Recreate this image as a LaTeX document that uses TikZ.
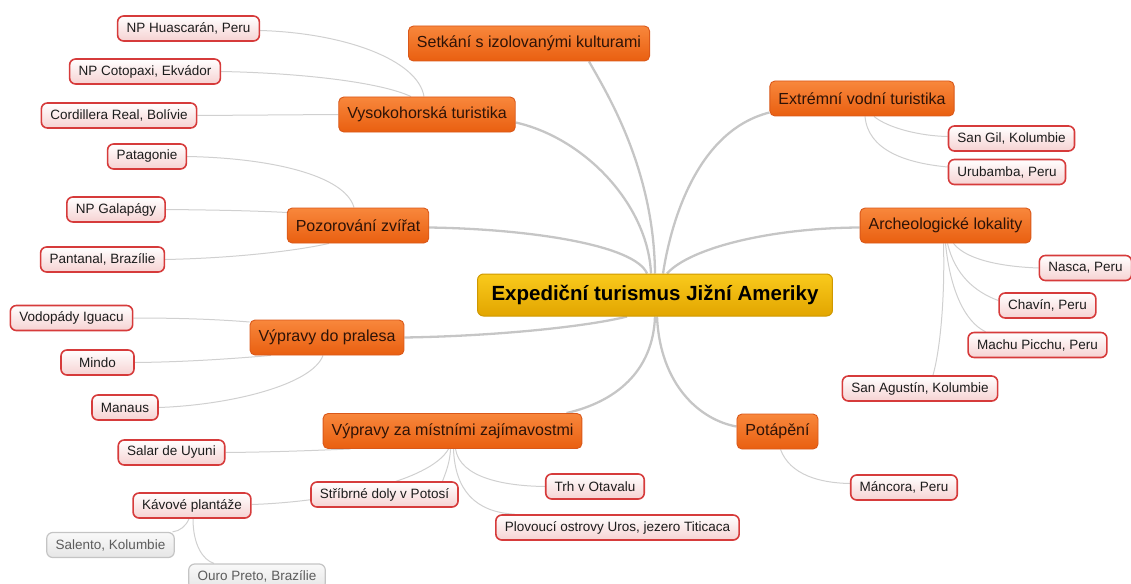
\documentclass[tikz,border=0pt]{standalone}
\usepackage{fontspec}
\setmainfont{Liberation Sans}
\usetikzlibrary{backgrounds}
\definecolor{trunkc}{HTML}{C6C6C6}
\definecolor{twigc}{HTML}{D0D0D0}
\definecolor{brdraw}{HTML}{D9581A}
\definecolor{brtop}{HTML}{F8873C}
\definecolor{brbot}{HTML}{E95F10}
\definecolor{brtext}{HTML}{2E1307}
\definecolor{lfdraw}{HTML}{D63B3B}
\definecolor{lfbot}{HTML}{F6D2D2}
\definecolor{lftext}{HTML}{1C1C1C}
\definecolor{gydraw}{HTML}{C4C4C4}
\definecolor{gytop}{HTML}{F9F9F9}
\definecolor{gybot}{HTML}{E6E6E6}
\definecolor{gytext}{HTML}{5C5C5C}
\definecolor{ctdraw}{HTML}{CF9800}
\definecolor{cttop}{HTML}{F9CA1C}
\definecolor{ctbot}{HTML}{E2A500}
\tikzset{
  centernode/.style={rounded corners=6pt, draw=ctdraw, line width=1pt, top color=cttop, bottom color=ctbot,
    font=\fontsize{20.5}{24}\selectfont\bfseries, text=black, minimum height=42pt, inner xsep=14pt},
  branch/.style={rounded corners=5pt, draw=brdraw, line width=0.9pt, top color=brtop, bottom color=brbot,
    font=\fontsize{16}{19}\selectfont, text=brtext, minimum height=35pt, inner xsep=8.5pt},
  leaf/.style={rounded corners=6pt, draw=lfdraw, line width=1.6pt, top color=white, bottom color=lfbot,
    font=\fontsize{13.5}{16}\selectfont, text=lftext, minimum height=25pt, inner xsep=9pt},
  grayleaf/.style={rounded corners=6pt, draw=gydraw, line width=1.2pt, top color=gytop, bottom color=gybot,
    font=\fontsize{13.5}{16}\selectfont, text=gytext, minimum height=25pt, inner xsep=9pt},
  trunk/.style={draw=trunkc, line width=2.3pt},
  twig/.style={draw=twigc, line width=1pt}
}
\begin{document}
\begin{tikzpicture}[x=1pt,y=-1pt]
\useasboundingbox (0,0) rectangle (1131,583);
\clip (0,0) rectangle (1131,583);
% center
\node[centernode] (c) at (655,295) {Expediční turismus Jižní Ameriky};
% branches
\node[branch] (set) at (529,43.5) {Setkání s izolovanými kulturami};
\node[branch] (vys) at (427,114.5) {Vysokohorská turistika};
\node[branch] (ext) at (862,98.5) {Extrémní vodní turistika};
\node[branch] (poz) at (358,225.5) {Pozorování zvířat};
\node[branch] (arc) at (945.5,225.5) {Archeologické lokality};
\node[branch] (pra) at (327,337.5) {Výpravy do pralesa};
\node[branch] (mis) at (452.5,431) {Výpravy za místními zajímavostmi};
\node[branch] (pot) at (777.5,431.5) {Potápění};
% leaves
\node[leaf] (hua) at (188.5,28.5) {NP Huascarán, Peru};
\node[leaf] (cot) at (145,71.5) {NP Cotopaxi, Ekvádor};
\node[leaf] (cor) at (119,115.5) {Cordillera Real, Bolívie};
\node[leaf] (pat) at (147,156.5) {Patagonie};
\node[leaf] (gal) at (116,209.5) {NP Galapágy};
\node[leaf] (pan) at (102.5,259.5) {Pantanal, Brazílie};
\node[leaf] (sgi) at (1011.5,138.5) {San Gil, Kolumbie};
\node[leaf] (uru) at (1007,172) {Urubamba, Peru};
\node[leaf] (nas) at (1085.5,268) {Nasca, Peru};
\node[leaf] (cha) at (1047.5,305.5) {Chavín, Peru};
\node[leaf] (mac) at (1037.5,345) {Machu Picchu, Peru};
\node[leaf] (sag) at (920,388.5) {San Agustín, Kolumbie};
\node[leaf] (manc) at (904,487.5) {Máncora, Peru};
\node[leaf] (vod) at (71.5,318) {Vodopády Iguacu};
\node[leaf, minimum width=73pt] (min) at (97.5,362.5) {Mindo};
\node[leaf] (man) at (125,407.5) {Manaus};
\node[leaf] (sal) at (171.5,452.5) {Salar de Uyuni};
\node[leaf] (str) at (384.5,494.5) {Stříbrné doly v Potosí};
\node[leaf] (trh) at (595,486.5) {Trh v Otavalu};
\node[leaf] (plo) at (617.5,527.5) {Plovoucí ostrovy Uros, jezero Titicaca};
\node[leaf] (kav) at (192,505.5) {Kávové plantáže};
\node[grayleaf] (sle) at (110.5,545) {Salento, Kolumbie};
\node[grayleaf] (our) at (257,576.5) {Ouro Preto, Brazílie};
\begin{pgfonlayer}{background}
% trunks
\draw[trunk] (c.north) .. controls (654,170) and (608,95) .. ([xshift=60pt]set.south);
\draw[trunk] ([yshift=-8pt]vys.east) .. controls (585,138) and (648,205) .. ([xshift=-4pt]c.north);
\draw[trunk] ([yshift=-2pt]poz.east) .. controls (530,229) and (635,245) .. ([xshift=-8pt]c.north);
\draw[trunk] ([xshift=8pt]c.north) .. controls (672,215) and (700,130) .. ([yshift=-14pt]ext.west);
\draw[trunk] ([xshift=12pt]c.north) .. controls (690,248) and (770,228) .. ([yshift=-2pt]arc.west);
\draw[trunk] (pra.east) .. controls (500,336) and (590,326) .. ([xshift=-28pt]c.south);
\draw[trunk] (c.south) .. controls (653,372) and (615,402) .. ([xshift=114pt]mis.north);
\draw[trunk] ([xshift=2pt]c.south) .. controls (660,385) and (700,420) .. ([yshift=5pt]pot.west);
% twigs
\draw[twig] ([yshift=-2pt]hua.east) .. controls (345,33) and (418,60) .. ([xshift=-3pt]vys.north);
\draw[twig] (cot.east) .. controls (300,73) and (380,82) .. ([xshift=-16pt]vys.north);
\draw[twig] (cor.east) -- (vys.west);
\draw[twig] (pat.east) .. controls (270,158) and (345,175) .. ([xshift=-4pt]poz.north);
\draw[twig] (gal.east) .. controls (220,210) and (260,211) .. ([yshift=13pt]poz.west);
\draw[twig] (pan.east) .. controls (240,258) and (300,250) .. ([xshift=-29pt]poz.south);
\draw[twig] (vod.east) .. controls (190,318) and (225,320) .. ([yshift=15.5pt]pra.west);
\draw[twig] (min.east) .. controls (190,362) and (240,358) .. ([xshift=-56pt]pra.south);
\draw[twig] (man.east) .. controls (230,405) and (312,385) .. ([xshift=-4pt]pra.south);
\draw[twig] (sal.east) .. controls (280,452) and (325,450) .. ([xshift=-102pt]mis.south);
\draw[twig] ([xshift=-2pt]mis.south) .. controls (450,462) and (446,472) .. ([xshift=58pt]str.north);
\draw[twig] ([xshift=-4pt]mis.south) .. controls (430,482) and (330,502) .. ([yshift=1pt]kav.east);
\draw[twig] ([xshift=3pt]mis.south) .. controls (460,478) and (505,486) .. (trh.west);
\draw[twig] ([xshift=1pt]mis.south) .. controls (455,490) and (475,512) .. ([xshift=-103pt]plo.north);
\draw[twig] ([xshift=-3pt]kav.south) .. controls (186,526) and (180,531) .. ([xshift=62pt]sle.north);
\draw[twig] ([xshift=1pt]kav.south) .. controls (193,545) and (203,560) .. ([xshift=-43pt]our.north);
\draw[twig] ([xshift=12pt]ext.south) .. controls (888,128) and (920,136) .. ([yshift=2pt]sgi.west);
\draw[twig] ([xshift=3pt]ext.south) .. controls (868,150) and (905,163) .. ([yshift=5pt]uru.west);
\draw[twig] ([xshift=8pt]arc.south) .. controls (968,262) and (1010,267) .. (nas.west);
\draw[twig] ([xshift=2pt]arc.south) .. controls (955,275) and (975,292) .. ([yshift=5pt]cha.west);
\draw[twig] (arc.south) .. controls (950,290) and (965,322) .. ([xshift=-52pt]mac.north);
\draw[twig] ([xshift=-2pt]arc.south) .. controls (945,300) and (940,350) .. ([xshift=13pt]sag.north);
\draw[twig] ([xshift=3pt]pot.south) .. controls (790,475) and (820,483) .. ([yshift=4pt]manc.west);
\end{pgfonlayer}
\end{tikzpicture}
\end{document}
